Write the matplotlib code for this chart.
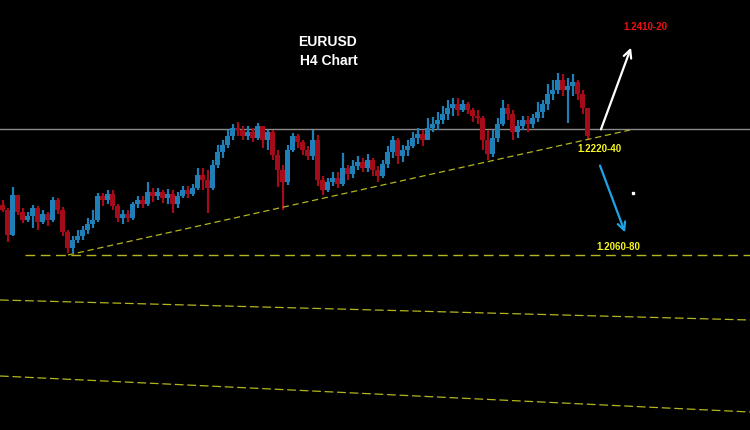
import numpy as np
import matplotlib
matplotlib.use('Agg')
import matplotlib.pyplot as plt

# EURUSD H4 candles (prices)
first_open = 1.21395
closes = [1.2132, 1.20945, 1.21545, 1.2129, 1.2117, 1.2123, 1.2135, 1.2114, 1.2126, 1.2117,
          1.2147, 1.2132, 1.2099, 1.2075, 1.2087, 1.2093, 1.2102, 1.2111, 1.2117, 1.2153,
          1.2147, 1.2156, 1.2138, 1.2120, 1.2126, 1.2120, 1.2141, 1.2147, 1.2141, 1.2159,
          1.2153, 1.2159, 1.2150, 1.2156, 1.2141, 1.2153, 1.2162, 1.2156, 1.2165, 1.21845,
          1.2177, 1.2165, 1.21995, 1.2219, 1.22295, 1.2243, 1.2255, 1.2252, 1.2243, 1.2249,
          1.2240, 1.2258, 1.2237, 1.2249, 1.22145, 1.2192, 1.2174, 1.2222, 1.2243, 1.2234,
          1.2222, 1.2213, 1.2237, 1.2177, 1.2162, 1.2174, 1.2180, 1.2171, 1.2195, 1.2186,
          1.2198, 1.2204, 1.2195, 1.2207, 1.2192, 1.2183, 1.2201, 1.2219, 1.2237, 1.2213,
          1.2222, 1.2228, 1.2240, 1.2246, 1.2237, 1.2255, 1.2261, 1.2267, 1.2276, 1.2285,
          1.2291, 1.2282, 1.2291, 1.2282, 1.2273, 1.2270, 1.2237, 1.2216, 1.2240, 1.2261,
          1.2285, 1.2276, 1.2249, 1.2258, 1.2267, 1.2261, 1.2270, 1.2279, 1.2291, 1.2306,
          1.2312, 1.2327, 1.2312, 1.2318, 1.2324, 1.2306, 1.2285, 1.2243]
highs = [1.2147, 1.2135, 1.21665, 1.2150, 1.2135, 1.2129, 1.21395, 1.2138, 1.2132, 1.2129,
         1.21515, 1.2150, 1.21365, 1.2102, 1.2093, 1.2102, 1.2108, 1.2120, 1.2132, 1.21575,
         1.21575, 1.2162, 1.2162, 1.2141, 1.2132, 1.2132, 1.2144, 1.2153, 1.2153, 1.2174,
         1.2165, 1.2165, 1.2162, 1.21635, 1.2162, 1.2159, 1.2168, 1.2168, 1.2171, 1.2195,
         1.2195, 1.2192, 1.2207, 1.22295, 1.2237, 1.2252, 1.2261, 1.2264, 1.2258, 1.2258,
         1.2255, 1.22625, 1.2258, 1.2252, 1.2252, 1.2222, 1.21995, 1.22295, 1.22475, 1.2246,
         1.2237, 1.2228, 1.2252, 1.22445, 1.2183, 1.2180, 1.2189, 1.2189, 1.22175, 1.21995,
         1.2207, 1.2213, 1.2210, 1.2216, 1.2210, 1.2198, 1.2207, 1.2228, 1.2243, 1.2240,
         1.22295, 1.2237, 1.2249, 1.2255, 1.2252, 1.2270, 1.22715, 1.2279, 1.2288, 1.2297,
         1.2300, 1.2300, 1.2297, 1.2294, 1.2285, 1.2282, 1.2273, 1.2252, 1.2252, 1.2270,
         1.2297, 1.2291, 1.2282, 1.2267, 1.2273, 1.2273, 1.2276, 1.2294, 1.2297, 1.2321,
         1.2327, 1.23375, 1.2336, 1.2330, 1.2336, 1.2327, 1.2312, 1.2285]
lows = [1.2129, 1.2084, 1.2093, 1.21245, 1.21125, 1.2114, 1.2105, 1.2102, 1.2111, 1.2108,
        1.2114, 1.2126, 1.2093, 1.20675, 1.20675, 1.20825, 1.2087, 1.2096, 1.2105, 1.2114,
        1.2138, 1.2141, 1.2132, 1.2114, 1.2111, 1.2114, 1.2117, 1.2135, 1.2135, 1.2138,
        1.2144, 1.2147, 1.21425, 1.2141, 1.21275, 1.2135, 1.2150, 1.2150, 1.2153, 1.2162,
        1.2162, 1.21275, 1.2162, 1.2195, 1.2210, 1.2225, 1.2237, 1.2243, 1.2237, 1.2237,
        1.2234, 1.2237, 1.2225, 1.2222, 1.2207, 1.21665, 1.2132, 1.21695, 1.2219, 1.2225,
        1.22145, 1.2207, 1.2207, 1.2168, 1.21545, 1.2159, 1.2168, 1.2165, 1.2168, 1.2177,
        1.2180, 1.2192, 1.2189, 1.2189, 1.2183, 1.2174, 1.2180, 1.2195, 1.2210, 1.2201,
        1.2204, 1.2213, 1.2225, 1.2231, 1.2228, 1.2237, 1.2249, 1.2252, 1.2261, 1.2267,
        1.2273, 1.2273, 1.2279, 1.2276, 1.2264, 1.2261, 1.2222, 1.2207, 1.22115, 1.2234,
        1.2258, 1.2267, 1.2237, 1.2240, 1.2252, 1.2249, 1.2255, 1.2264, 1.2270, 1.2282,
        1.2297, 1.2306, 1.2303, 1.22625, 1.2303, 1.2297, 1.2276, 1.2237]

resistance = 1.22535
support = 1.20645
trend_start = (13.1, 1.20645)
trend_end = (125.5, 1.2252)
channel_1 = (1.1997, 1.1967)
channel_2 = (1.1883, 1.1829)

closes = np.array(closes)
highs = np.array(highs)
lows = np.array(lows)
opens = np.concatenate([[first_open], closes[:-1]])
idx = np.arange(len(closes))

BLUE = '#1f80b8'
RED = '#a50c1a'
YEL = '#b4b41e'

fig = plt.figure(figsize=(7.5, 4.3), dpi=100, facecolor='black')
ax = fig.add_axes([0, 0, 1, 1])
ax.set_facecolor('black')
ax.set_xlim(-0.5, 149.5)
ax.set_ylim(1.1802, 1.2447)
ax.axis('off')

up = closes >= opens
colors = np.where(up, BLUE, RED)
ax.vlines(idx, lows, highs, colors=colors, linewidth=1.6, zorder=3)
ax.bar(idx, np.abs(closes - opens) + 0.00005, bottom=np.minimum(opens, closes),
       width=0.9, color=colors, edgecolor='none', zorder=3)

# levels and trend lines
ax.axhline(resistance, color='#8a8a8a', linewidth=1.0, zorder=2)
ax.plot([4.5, 149.5], [support, support], color=YEL, linewidth=1.0,
        linestyle=(0, (7, 4)), zorder=2)
ax.plot([trend_start[0], trend_end[0]], [trend_start[1], trend_end[1]], color=YEL,
        linewidth=0.9, linestyle=(0, (5, 3)), zorder=4)
ax.plot([-0.5, 149.5], channel_1, color=YEL, linewidth=0.9, linestyle=(0, (7, 3)))
ax.plot([-0.5, 149.5], channel_2, color=YEL, linewidth=0.9, linestyle=(0, (7, 3)))

# projected moves
ax.annotate('', xy=(125.9, 1.23795), xytext=(119.5, 1.2249),
            arrowprops=dict(arrowstyle='->', color='white', lw=1.6, mutation_scale=14))
ax.annotate('', xy=(124.7, 1.20945), xytext=(119.3, 1.22025),
            arrowprops=dict(arrowstyle='->', color='#1ea3e6', lw=1.6, mutation_scale=14))
ax.plot([126.1], [1.21575], marker='s', markersize=1.5, color='white')

font = ['Liberation Sans', 'DejaVu Sans']
ax.text(65.0, 1.2384, 'EURUSD', color='white', fontsize=10, fontweight='bold',
        ha='center', va='center', family=font)
ax.text(65.3, 1.23555, 'H4 Chart', color='white', fontsize=10, fontweight='bold',
        ha='center', va='center', family=font)
ax.text(128.5, 1.24065, '1.2410-20', color='#f01010', fontsize=7, fontweight='bold',
        ha='center', va='center', family=font)
ax.text(119.3, 1.22235, '1.2220-40', color='#f5f520', fontsize=7, fontweight='bold',
        ha='center', va='center', family=font)
ax.text(123.1, 1.20765, '1.2060-80', color='#f5f520', fontsize=7, fontweight='bold',
        ha='center', va='center', family=font)

fig.savefig('out.png', dpi=100, facecolor='black')
